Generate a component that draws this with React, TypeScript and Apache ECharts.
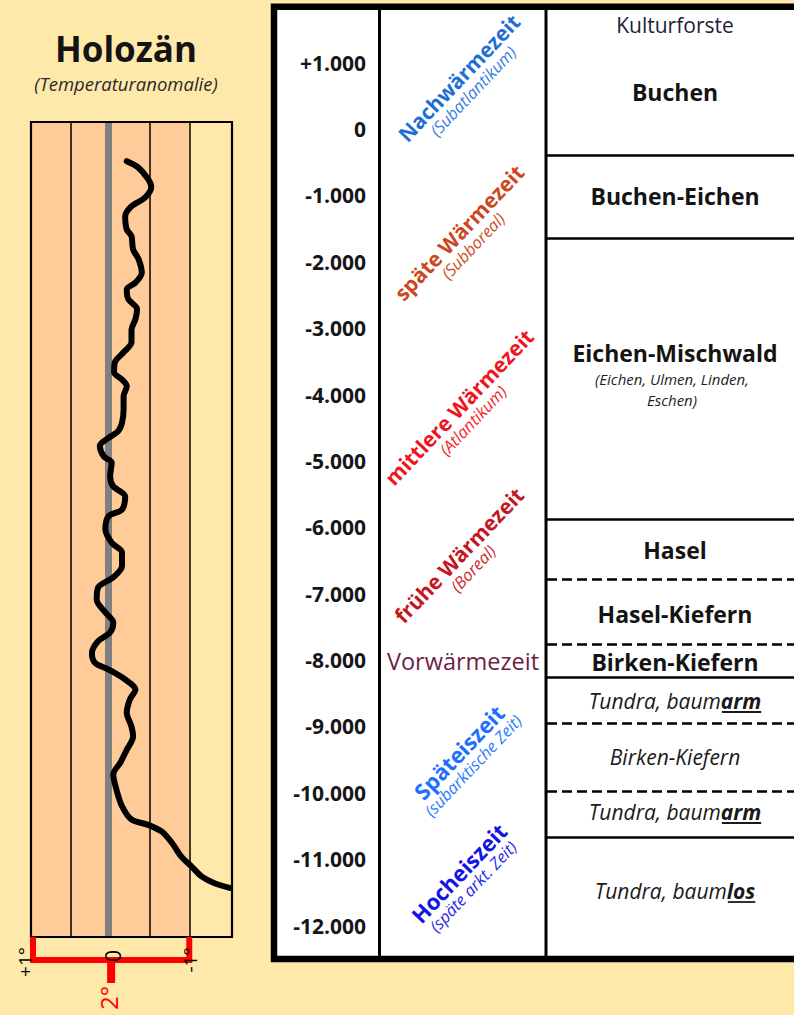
import { useEffect, useRef } from "react";
import * as echarts from "echarts";

// ---------- data ----------
const yearTickMin = -12000;
const yearTickMax = 1000;
const yearTickStep = 1000;

// Temperature anomaly curve (°C) against years
const curveYears = [
  -480, -570, -750, -870, -1030, -1160, -1310, -1510, -1610, -1810,
  -1960, -2160, -2310, -2410, -2560, -2710, -2860, -3020, -3210, -3360,
  -3510, -3660, -3770, -3870, -4020, -4220, -4420, -4550, -4650, -4770,
  -4930, -5020, -5230, -5380, -5530, -5730, -5830, -6030, -6230, -6380,
  -6580, -6750, -6900, -7090, -7280, -7430, -7580, -7710, -7890, -8040,
  -8140, -8290, -8440, -8590, -8790, -9000, -9150, -9350, -9540, -9720,
  -9950, -10200, -10400, -10480, -10580, -10750, -10960, -11110, -11260, -11360, -11430,
];
const curveTemps = [
  -0.21, -0.35, -0.48, -0.52, -0.44, -0.27, -0.19, -0.21, -0.27, -0.29,
  -0.36, -0.4, -0.32, -0.21, -0.23, -0.34, -0.32, -0.27, -0.27, -0.17,
  -0.06, -0.05, -0.15, -0.21, -0.17, -0.17, -0.15, -0.1, 0.02, 0.13,
  0.08, -0.02, 0.0, -0.04, -0.19, -0.15, 0.02, 0.06, -0.02, -0.15,
  -0.15, -0.04, 0.15, 0.17, 0.06, -0.04, 0.0, 0.15, 0.23, 0.19,
  0.02, -0.19, -0.32, -0.25, -0.21, -0.27, -0.29, -0.21, -0.13, -0.04,
  -0.08, -0.15, -0.27, -0.48, -0.65, -0.78, -0.9, -1.03, -1.16, -1.32, -1.51,
];

// temperature axis
const tempMin = -1.54;
const tempMax = 1;
const tempGridLines = [0.5, -0.5, -1];
const tempWarmBand = [1, -1];

// period column
const periodNames = ["Nachwärmezeit", "späte Wärmezeit", "mittlere Wärmezeit", "frühe Wärmezeit", "Späteiszeit", "Hocheiszeit"];
const periodSubs = ["(Subatlantikum)", "(Subboreal)", "(Atlantikum)", "(Boreal)", "(subarktische Zeit)", "(späte arkt. Zeit)"];
const periodYears = [770, -1560, -4190, -6420, -9390, -11210];
const periodColors = ["#1F6ED6", "#CC461E", "#F0141E", "#C8141E", "#1E6EFF", "#1414E6"];
const periodSubColors = ["#3A80E2", "#D0502A", "#F02A30", "#CC2A32", "#2E7CFF", "#2A2AEA"];
const preWarmName = "Vorwärmezeit";
const preWarmYear = -8015;

// forest column
const forestBoundaries = [-400, -1650, -5880, -6780, -7760, -8260, -8950, -9970, -10670];
const forestBoundaryTypes = ["solid", "solid", "solid", "dashed", "dashed", "solid", "dashed", "dashed", "solid"];
const forestNames = ["Buchen", "Buchen-Eichen", "Eichen-Mischwald", "Hasel", "Hasel-Kiefern", "Birken-Kiefern"];
const forestNameYears = [557, -1009, -3375, -6342, -7306, -8030];
const forestItalic = [
  { a: "Tundra, baum", b: "arm", year: -8617 },
  { a: "Birken-Kiefern", b: "", year: -9461 },
  { a: "Tundra, baum", b: "arm", year: -10289 },
  { a: "Tundra, baum", b: "los", year: -11479 },
];
const forestTopNote = "Kulturforste";
const forestTopNoteYear = 1567;
const mischwaldNotes = ["(Eichen, Ulmen, Linden,", "Eschen)"];

const FONT = '"Open Sans", "Noto Sans", sans-serif';
const BG = "#FFE9AA";

function fmtYear(v: number) {
  const abs = Math.abs(v);
  const s = abs >= 1000 ? Math.floor(abs / 1000) + "." + String(abs % 1000).padStart(3, "0") : String(abs);
  if (v > 0) return "+" + s;
  if (v < 0) return "-" + s;
  return s;
}

export default function App() {
  const ref = useRef<HTMLDivElement>(null);
  useEffect(() => {
    const el = ref.current!;
    const chart = echarts.init(el, null, { renderer: "svg", width: 794, height: 1015 });
    const yTop = 62.6;
    const yH = 863;
    chart.setOption({
      animation: false,
      backgroundColor: BG,
      grid: [
        { left: 31, top: 122, width: 201, height: 815 },
        { left: 277, top: yTop, width: 103, height: yH },
        { left: 547, top: yTop, width: 247, height: yH },
      ],
      xAxis: [
        { gridIndex: 0, type: "value", min: tempMin, max: tempMax, inverse: true, show: false },
        { gridIndex: 1, type: "value", min: 0, max: 1, show: false },
        { gridIndex: 2, type: "value", min: 0, max: 1, show: false },
      ],
      yAxis: [
        { gridIndex: 0, type: "value", min: -12170, max: 110, show: false },
        {
          gridIndex: 1,
          type: "value",
          min: yearTickMin,
          max: yearTickMax,
          interval: yearTickStep,
          position: "right",
          axisLine: { show: false },
          axisTick: { show: false },
          splitLine: { show: false },
          axisLabel: {
            inside: true,
            margin: 14,
            showMinLabel: true,
            showMaxLabel: true,
            formatter: (v: number) => fmtYear(v),
            fontFamily: FONT,
            fontWeight: "bold",
            fontSize: 21,
            color: "#161616",
          },
        },
        { gridIndex: 2, type: "value", min: yearTickMin, max: yearTickMax, show: false },
      ],
      series: [
        {
          type: "line",
          xAxisIndex: 0,
          yAxisIndex: 0,
          data: [[0, -20000]],
          symbol: "none",
          lineStyle: { opacity: 0 },
          silent: true,
          z: 1,
          markArea: {
            silent: true,
            itemStyle: { color: "#FFCC99" },
            data: [[{ xAxis: tempWarmBand[0] }, { xAxis: tempWarmBand[1] }]],
          },
          markLine: {
            silent: true,
            symbol: "none",
            label: { show: false },
            data: [
              ...tempGridLines.map((v) => ({ xAxis: v, lineStyle: { color: "#000", width: 1.5, type: "solid" } })),
              { xAxis: 0.03, lineStyle: { color: "#808080", width: 7, type: "solid" } },
            ],
          },
        },
        {
          type: "line",
          xAxisIndex: 0,
          yAxisIndex: 0,
          data: curveTemps.map((t, i) => [t, curveYears[i]]),
          symbol: "none",
          showSymbol: false,
          smooth: 0.3,
          lineStyle: { color: "#000", width: 6, join: "round", cap: "round" },
          z: 10,
          silent: true,
        },
        {
          type: "line",
          xAxisIndex: 2,
          yAxisIndex: 2,
          data: [[0, -20000]],
          symbol: "none",
          lineStyle: { opacity: 0 },
          silent: true,
          z: 3,
          markLine: {
            silent: true,
            symbol: "none",
            label: { show: false },
            data: forestBoundaries.map((v, i) => ({
              yAxis: v,
              lineStyle: { color: "#000", width: 2.5, type: forestBoundaryTypes[i] === "dashed" ? [10, 5] : "solid" },
            })),
          },
        },
      ],
    });

    const px = (ai: number, v: number) => chart.convertToPixel({ xAxisIndex: ai }, v) as number;
    const py = (ai: number, v: number) => chart.convertToPixel({ yAxisIndex: ai }, v) as number;

    // left panel geometry
    const lx1 = px(0, 1);
    const lx0 = px(0, 0);
    const lxm1 = px(0, -1);
    const lRight = px(0, tempMin);
    const lTop = py(0, 110);
    const lBottom = py(0, -12170);
    const brY = lBottom + 23;

    const ctx = document.createElement("canvas").getContext("2d")!;
    const measure = (t: string, font: string) => {
      ctx.font = font;
      return ctx.measureText(t).width;
    };

    const forestCx = 675;
    const periodCx = 459;
    const rot = (46.5 * Math.PI) / 180;

    const graphics: any[] = [];
    // table background and frame
    graphics.push({ type: "rect", z: 0, shape: { x: 274, y: 6.7, width: 600, height: 952.3 }, style: { fill: "#fff", stroke: null } });
    graphics.push({ type: "rect", z: 50, shape: { x: 274, y: 6.7, width: 600, height: 952.3 }, style: { fill: null, stroke: "#000", lineWidth: 6.5 } });
    graphics.push({ type: "line", z: 50, shape: { x1: 379.5, y1: 8, x2: 379.5, y2: 957 }, style: { stroke: "#000", lineWidth: 3 } });
    graphics.push({ type: "line", z: 50, shape: { x1: 546, y1: 8, x2: 546, y2: 957 }, style: { stroke: "#000", lineWidth: 3 } });

    // left box frame
    graphics.push({ type: "rect", z: 60, shape: { x: lx1, y: lTop, width: lRight - lx1, height: lBottom - lTop }, style: { fill: null, stroke: "#000", lineWidth: 2.2 } });
    // red bracket
    graphics.push({ type: "polyline", z: 60, shape: { points: [[lx1 + 2, lBottom], [lx1 + 2, brY], [lxm1, brY], [lxm1, lBottom]] }, style: { stroke: "#FF0000", lineWidth: 6, fill: null } });
    graphics.push({ type: "line", z: 60, shape: { x1: lx0 + 1, y1: brY, x2: lx0 + 1, y2: brY + 23 }, style: { stroke: "#FF0000", lineWidth: 8 } });
    const rotLabel = (text: string, x: number, y: number, size: number, color: string) => ({
      type: "text", z: 70, x, y, rotation: Math.PI / 2,
      style: { text, fontFamily: FONT, fontSize: size, fill: color, align: "center", verticalAlign: "middle" },
    });
    graphics.push(rotLabel("+1°", lx1 - 6, brY + 2, 19, "#000"));
    graphics.push(rotLabel("0", lx0 + 3, brY - 4, 21, "#000"));
    graphics.push(rotLabel("-1°", lxm1 + 1, brY, 19, "#000"));
    graphics.push(rotLabel("2°", lx0 - 2, brY + 38, 24, "#FF0000"));

    // titles
    graphics.push({ type: "text", z: 70, x: 126, y: 48, style: { text: "Holozän", fontFamily: FONT, fontWeight: "bold", fontSize: 35, fill: "#141414", align: "center", verticalAlign: "middle" } });
    graphics.push({ type: "text", z: 70, x: 126, y: 83, style: { text: "(Temperaturanomalie)", fontFamily: FONT, fontStyle: "italic", fontSize: 18.5, fill: "#2a2a2a", align: "center", verticalAlign: "middle" } });

    // period labels
    periodNames.forEach((name, i) => {
      const big = i >= 4;
      graphics.push({
        type: "group", z: 70, x: periodCx, y: py(1, periodYears[i]), rotation: rot,
        children: [
          { type: "text", z: 70, style: { text: name, x: 0, y: 0, fontFamily: FONT, fontWeight: "bold", fontSize: big ? 22 : 21, fill: periodColors[i], align: "center", verticalAlign: "middle" } },
          { type: "text", z: 70, style: { text: periodSubs[i], x: 0, y: 19, fontFamily: FONT, fontStyle: "italic", fontSize: 16.5, fill: periodSubColors[i], align: "center", verticalAlign: "middle" } },
        ],
      });
    });
    graphics.push({ type: "text", z: 70, x: 463, y: py(1, preWarmYear), style: { text: preWarmName, fontFamily: FONT, fontSize: 23.5, fill: "#6E1E46", align: "center", verticalAlign: "middle" } });

    // forest labels
    graphics.push({ type: "text", z: 70, x: forestCx, y: py(2, forestTopNoteYear), style: { text: forestTopNote, fontFamily: FONT, fontSize: 21, fill: "#22223a", align: "center", verticalAlign: "middle" } });
    forestNames.forEach((name, i) => {
      graphics.push({ type: "text", z: 70, x: forestCx, y: py(2, forestNameYears[i]), style: { text: name, fontFamily: FONT, fontWeight: "bold", fontSize: 23, fill: "#141414", align: "center", verticalAlign: "middle" } });
    });
    const mY = py(2, forestNameYears[2]);
    mischwaldNotes.forEach((t, i) => {
      graphics.push({
        type: "text", z: 70, x: forestCx - 3, y: mY + 26 + i * 20.5,
        style: { text: t, fontFamily: FONT, fontStyle: "italic", fontSize: 15, fill: "#1e1e1e", align: "center", verticalAlign: "middle" },
      });
    });
    const fsz = 21;
    forestItalic.forEach((f) => {
      const y = py(2, f.year);
      const fa = `italic ${fsz}px "Open Sans"`;
      const fb = `italic bold ${fsz}px "Open Sans"`;
      const wa = measure(f.a, fa);
      const wb = f.b ? measure(f.b, fb) : 0;
      const x0 = forestCx - (wa + wb) / 2;
      graphics.push({
        type: "text", z: 70, x: x0, y,
        style: {
          text: f.b ? `{a|${f.a}}{b|${f.b}}` : `{a|${f.a}}`,
          align: "left", verticalAlign: "middle",
          rich: {
            a: { fontFamily: FONT, fontStyle: "italic", fontSize: fsz, fill: "#1a1a1a", color: "#1a1a1a" },
            b: { fontFamily: FONT, fontStyle: "italic", fontWeight: "bold", fontSize: fsz, fill: "#1a1a1a", color: "#1a1a1a" },
          },
        },
      });
      if (f.b) {
        graphics.push({ type: "line", z: 70, shape: { x1: x0 + wa + 1, y1: y + 11, x2: x0 + wa + wb, y2: y + 11 }, style: { stroke: "#1a1a1a", lineWidth: 1.8 } });
      }
    });

    chart.setOption({ graphic: graphics });
    return () => chart.dispose();
  }, []);
  return <div ref={ref} style={{ position: "fixed", left: 0, top: 0, width: 794, height: 1015 }} />;
}
